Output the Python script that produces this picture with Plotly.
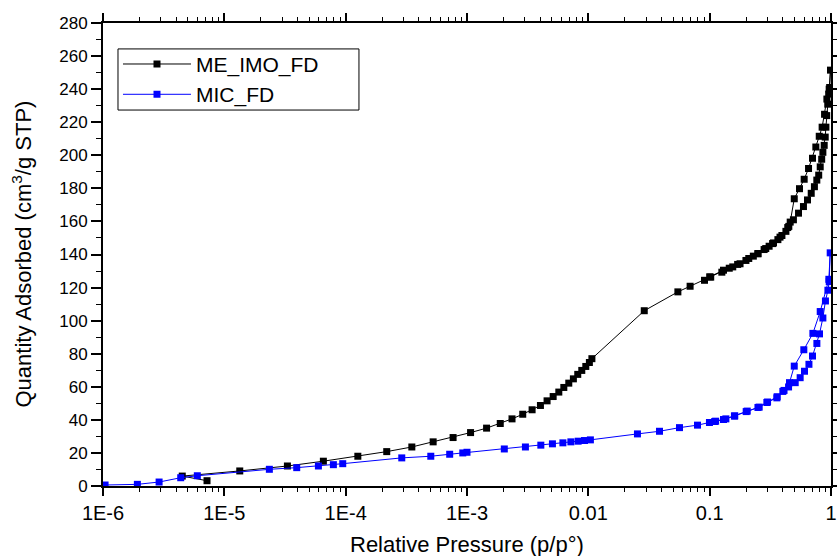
import plotly.graph_objects as go

# ---- data ----
x_tick_vals = [1e-6, 1e-5, 1e-4, 1e-3, 1e-2, 1e-1, 1]
x_tick_text = ["1E-6", "1E-5", "1E-4", "1E-3", "0.01", "0.1", "1"]

me_ads_p = [7.2e-6, 4.5e-6, 1.34e-5, 3.31e-5, 6.55e-5, 1.26e-4, 2.18e-4, 3.51e-4, 5.26e-4,
            7.68e-4, 1.07e-3, 1.45e-3, 1.88e-3, 2.35e-3, 2.88e-3, 3.44e-3, 4.03e-3, 4.57e-3,
            5.13e-3, 5.71e-3, 6.28e-3, 6.9e-3, 7.53e-3, 8.18e-3, 8.83e-3, 9.53e-3, 1.02e-2,
            1.07e-2, 2.89e-2, 5.47e-2, 6.9e-2, 9.07e-2, 0.102, 0.126, 0.145, 0.155, 0.178,
            0.199, 0.229, 0.25, 0.281, 0.309, 0.336, 0.365, 0.394, 0.425, 0.449, 0.49, 0.54,
            0.593, 0.64, 0.687, 0.73, 0.764, 0.792, 0.815, 0.838, 0.857, 0.879, 0.896, 0.908,
            0.922, 0.94, 0.957, 0.975, 0.99]
me_ads_v = [3.2, 6.0, 9.1, 12.1, 15.0, 18.0, 20.8, 23.6, 26.7, 29.3, 32.3, 35.0, 37.8, 40.6,
            43.4, 46.1, 48.7, 51.5, 54.1, 56.8, 59.6, 62.2, 64.8, 67.5, 69.9, 72.3, 74.7, 77.0,
            106.0, 117.4, 120.8, 124.4, 126.3, 129.3, 131.7, 132.5, 134.4, 136.4, 139.0, 140.4,
            143.0, 145.0, 147.0, 149.0, 151.5, 154.0, 157.0, 161.0, 165.0, 169.0, 173.0, 177.0,
            181.0, 185.0, 188.0, 193.0, 197.6, 201.8, 206.0, 211.0, 217.0, 224.0, 230.9, 237.0,
            241.0, 251.5]
me_des_p = [0.966, 0.925, 0.885, 0.845, 0.8, 0.75, 0.704, 0.653, 0.601, 0.55, 0.498, 0.461,
            0.44, 0.38, 0.33, 0.29, 0.25, 0.21, 0.17, 0.13, 0.1]
me_des_v = [240.0, 234.0, 224.8, 217.0, 211.5, 205.0, 198.2, 192.0, 185.5, 179.8, 173.7, 159.6,
            156.3, 150.5, 146.6, 143.6, 140.6, 137.6, 134.0, 130.5, 126.5]

mic_ads_p = [1.04e-6, 1.92e-6, 2.9e-6, 4.37e-6, 5.99e-6, 2.35e-5, 3.95e-5, 5.96e-5, 7.92e-5,
             9.46e-5, 2.9e-4, 5.03e-4, 7.2e-4, 9.23e-4, 1.0e-3, 2.03e-3, 3.03e-3, 4.06e-3,
             5.06e-3, 6.17e-3, 7.18e-3, 8.24e-3, 9.3e-3, 1.04e-2, 2.54e-2, 3.86e-2, 5.64e-2,
             7.94e-2, 9.96e-2, 0.112, 0.136, 0.161, 0.204, 0.256, 0.296, 0.358, 0.401, 0.447,
             0.507, 0.557, 0.605, 0.658, 0.704, 0.765, 0.804, 0.857, 0.9, 0.943, 0.967, 0.985]
mic_ads_v = [0.6, 1.0, 2.4, 5.0, 6.2, 10.1, 11.1, 12.1, 12.9, 13.5, 17.0, 18.0, 19.2, 20.0, 20.4,
             22.4, 23.6, 24.7, 25.5, 26.1, 26.7, 27.1, 27.5, 27.9, 31.5, 33.1, 35.3, 36.8, 38.4,
             39.2, 40.6, 42.4, 45.3, 47.7, 50.5, 53.3, 57.2, 59.9, 62.5, 65.5, 69.4, 73.6, 78.6,
             86.2, 92.0, 101.6, 111.9, 118.4, 123.6, 141.0]
mic_des_p = [0.96, 0.815, 0.709, 0.597, 0.498, 0.455, 0.41, 0.36, 0.3, 0.25, 0.2, 0.16, 0.13, 0.11]
mic_des_v = [125.0, 105.5, 92.3, 82.4, 72.5, 62.5, 57.8, 54.0, 50.8, 47.5, 45.0, 42.3, 40.2, 39.0]

series_names = ["ME_IMO_FD", "MIC_FD"]
series_colors = ["#000000", "#0000ff"]
x_title = "Relative Pressure (p/p°)"
y_title = "Quantity Adsorbed (cm<sup>3</sup>/g STP)"

FONT = "Liberation Sans, Arial, sans-serif"

fig = go.Figure()
for name, color, px, pv in [
    (series_names[0], series_colors[0], me_ads_p + me_des_p, me_ads_v + me_des_v),
    (series_names[1], series_colors[1], mic_ads_p + mic_des_p, mic_ads_v + mic_des_v),
]:
    fig.add_trace(go.Scatter(
        x=px, y=pv, name=name, mode="lines+markers",
        line=dict(color=color, width=1),
        marker=dict(symbol="square", size=7, color=color, line=dict(width=0)),
    ))

minor_x = [m * 10.0 ** k for k in range(-6, 0) for m in range(2, 10)]

fig.update_layout(
    width=837, height=556,
    margin=dict(l=103, r=6, t=23, b=70, autoexpand=False),
    paper_bgcolor="white", plot_bgcolor="white",
    font=dict(family=FONT, color="black"),
    showlegend=True,
    legend=dict(
        x=0.0206, y=0.955, xanchor="left", yanchor="top",
        bgcolor="rgba(0,0,0,0)", borderwidth=0,
        font=dict(family=FONT, size=21, color="black"),
        itemwidth=68, tracegroupgap=0,
    ),
    # legend frame
    shapes=[dict(type="rect", xref="paper", yref="paper",
                 x0=0.0206, x1=0.3516, y0=0.812, y1=0.944,
                 line=dict(color="black", width=1), fillcolor="white", layer="above")],
    xaxis=dict(
        type="log", range=[-6, 0], automargin=False,
        tickmode="array", tickvals=x_tick_vals, ticktext=x_tick_text,
        ticks="outside", ticklen=8, tickwidth=1.5, tickcolor="black",
        minor=dict(tickmode="array", tickvals=minor_x, ticks="outside", ticklen=4,
                   tickwidth=1, tickcolor="black", showgrid=False),
        showline=True, linecolor="black", linewidth=2, mirror="ticks",
        showgrid=False, zeroline=False,
        tickfont=dict(family=FONT, size=20, color="black"),
    ),
    yaxis=dict(
        range=[0, 280], dtick=20, tick0=0, automargin=False,
        ticks="outside", ticklen=10, tickwidth=1.5, tickcolor="black",
        minor=dict(dtick=10, ticks="outside", ticklen=5, tickwidth=1, tickcolor="black",
                   showgrid=False),
        showline=True, linecolor="black", linewidth=2, mirror="ticks",
        showgrid=False, zeroline=False,
        tickfont=dict(family=FONT, size=17, color="black"),
    ),
    annotations=[
        dict(text=x_title, xref="paper", yref="paper", x=0.5, y=0, yshift=-58,
             xanchor="center", yanchor="middle", showarrow=False,
             font=dict(family=FONT, size=22, color="black")),
        dict(text=y_title, xref="paper", yref="paper", x=0, y=0.5, xshift=-82,
             xanchor="center", yanchor="middle", textangle=-90, showarrow=False,
             font=dict(family=FONT, size=22, color="black")),
    ],
)

fig.write_html(
    "out.html",
    config={"displayModeBar": False},
    post_script="document.body.style.margin='0';document.body.style.overflow='hidden';",
)
